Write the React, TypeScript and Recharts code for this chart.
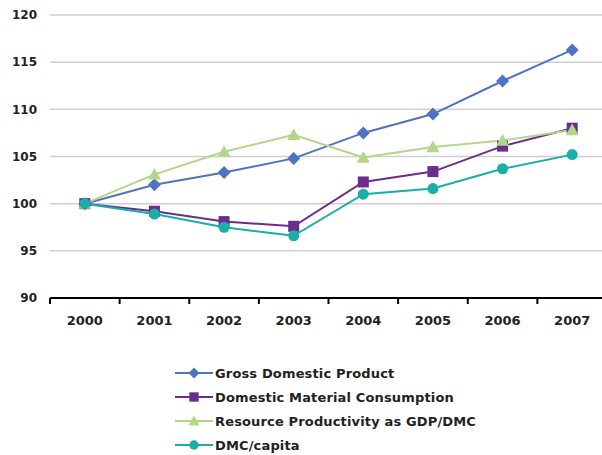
import React from "react";
import { LineChart, Line, XAxis, YAxis, CartesianGrid } from "recharts";

// Index values (2000 = 100)
const years = ["2000", "2001", "2002", "2003", "2004", "2005", "2006", "2007"];
const gdp = [100, 102.0, 103.3, 104.8, 107.5, 109.5, 113.0, 116.3];
const dmc = [100, 99.2, 98.1, 97.6, 102.3, 103.4, 106.1, 108.0];
const resourceProductivity = [100, 103.1, 105.5, 107.3, 104.9, 106.0, 106.7, 107.8];
const dmcPerCapita = [100, 98.9, 97.5, 96.6, 101.0, 101.6, 103.7, 105.2];
const yTicks = [90, 95, 100, 105, 110, 115, 120];

const FONT = "'DejaVu Sans', Verdana, sans-serif";

type Shape = "diamond" | "square" | "triangle" | "circle";

const series: { key: string; name: string; color: string; shape: Shape; values: number[] }[] = [
  { key: "gdp", name: "Gross Domestic Product", color: "#4f73c2", shape: "diamond", values: gdp },
  { key: "dmc", name: "Domestic Material Consumption", color: "#6a2d8d", shape: "square", values: dmc },
  { key: "rp", name: "Resource Productivity as GDP/DMC", color: "#b3d68a", shape: "triangle", values: resourceProductivity },
  { key: "dmcpc", name: "DMC/capita", color: "#1aaea9", shape: "circle", values: dmcPerCapita },
];

// Each year sits in the middle of its band on a numeric axis 0..8
const data = years.map((y, i) => {
  const row: Record<string, number | string> = { year: y, pos: i + 0.5 };
  series.forEach((s) => {
    row[s.key] = s.values[i];
  });
  return row;
});

const xTicks: number[] = [];
for (let i = 0; i <= years.length; i++) {
  xTicks.push(i);
  if (i < years.length) xTicks.push(i + 0.5);
}

function Marker({ shape, cx, cy, color, size = 1 }: { shape: Shape; cx: number; cy: number; color: string; size?: number }) {
  if (shape === "diamond") {
    const r = 6.5 * size;
    return <polygon points={`${cx},${cy - r} ${cx + r},${cy} ${cx},${cy + r} ${cx - r},${cy}`} fill={color} />;
  }
  if (shape === "square") {
    const r = 5.5 * size;
    return <rect x={cx - r} y={cy - r} width={2 * r} height={2 * r} fill={color} />;
  }
  if (shape === "triangle") {
    const r = 6.5 * size;
    return <polygon points={`${cx},${cy - r} ${cx + r},${cy + r * 0.8} ${cx - r},${cy + r * 0.8}`} fill={color} />;
  }
  return <circle cx={cx} cy={cy} r={5.5 * size} fill={color} />;
}

// Integer ticks are band boundaries (tick marks); half ticks carry the year label
function XTick(props: any) {
  const { x, y, payload } = props;
  const v = payload.value as number;
  if (Number.isInteger(v)) {
    return <line x1={x} y1={y} x2={x} y2={y + 6} stroke="#000" strokeWidth={2} />;
  }
  return (
    <text x={x} y={y + 27} textAnchor="middle" fontFamily={FONT} fontWeight="bold" fontSize={13} fill="#222">
      {years[Math.floor(v)]}
    </text>
  );
}

export default function App() {
  return (
    <div style={{ position: "absolute", left: 0, top: 0, width: 602, height: 455, overflow: "hidden", background: "#fff" }}>
      <LineChart width={610} height={455} data={data} margin={{ top: 15, right: 3, bottom: 127, left: 0 }}>
        <CartesianGrid vertical={false} stroke="#cfcfcf" strokeWidth={1.5} />
        <XAxis
          dataKey="pos"
          type="number"
          domain={[0, 8]}
          ticks={xTicks}
          interval={0}
          tick={<XTick />}
          tickLine={false}
          tickSize={0}
          tickMargin={0}
          height={30}
          axisLine={{ stroke: "#000", strokeWidth: 2 }}
        />
        <YAxis
          domain={[90, 120]}
          ticks={yTicks}
          width={50}
          axisLine={false}
          tickLine={false}
          tickSize={0}
          tickMargin={13}
          tick={{ fontFamily: FONT, fontWeight: "bold", fontSize: 12, fill: "#222" }}
        />
        {series.map((s) => (
          <Line
            key={s.key}
            dataKey={s.key}
            name={s.name}
            stroke={s.color}
            strokeWidth={2}
            isAnimationActive={false}
            dot={(p: any) => <Marker key={`${s.key}-${p.index}`} shape={s.shape} cx={p.cx} cy={p.cy} color={s.color} />}
          />
        ))}
      </LineChart>
      <div style={{ position: "absolute", left: 175, top: 361, fontFamily: FONT, fontWeight: "bold", fontSize: 13, letterSpacing: 0.15, color: "#222" }}>
        {series.map((s) => (
          <div key={s.key} style={{ display: "flex", alignItems: "center", height: 24 }}>
            <svg width={38} height={14} style={{ marginRight: 2 }}>
              <line x1={0} y1={7} x2={38} y2={7} stroke={s.color} strokeWidth={2} />
              <Marker shape={s.shape} cx={19} cy={7} color={s.color} size={0.85} />
            </svg>
            <span>{s.name}</span>
          </div>
        ))}
      </div>
    </div>
  );
}
